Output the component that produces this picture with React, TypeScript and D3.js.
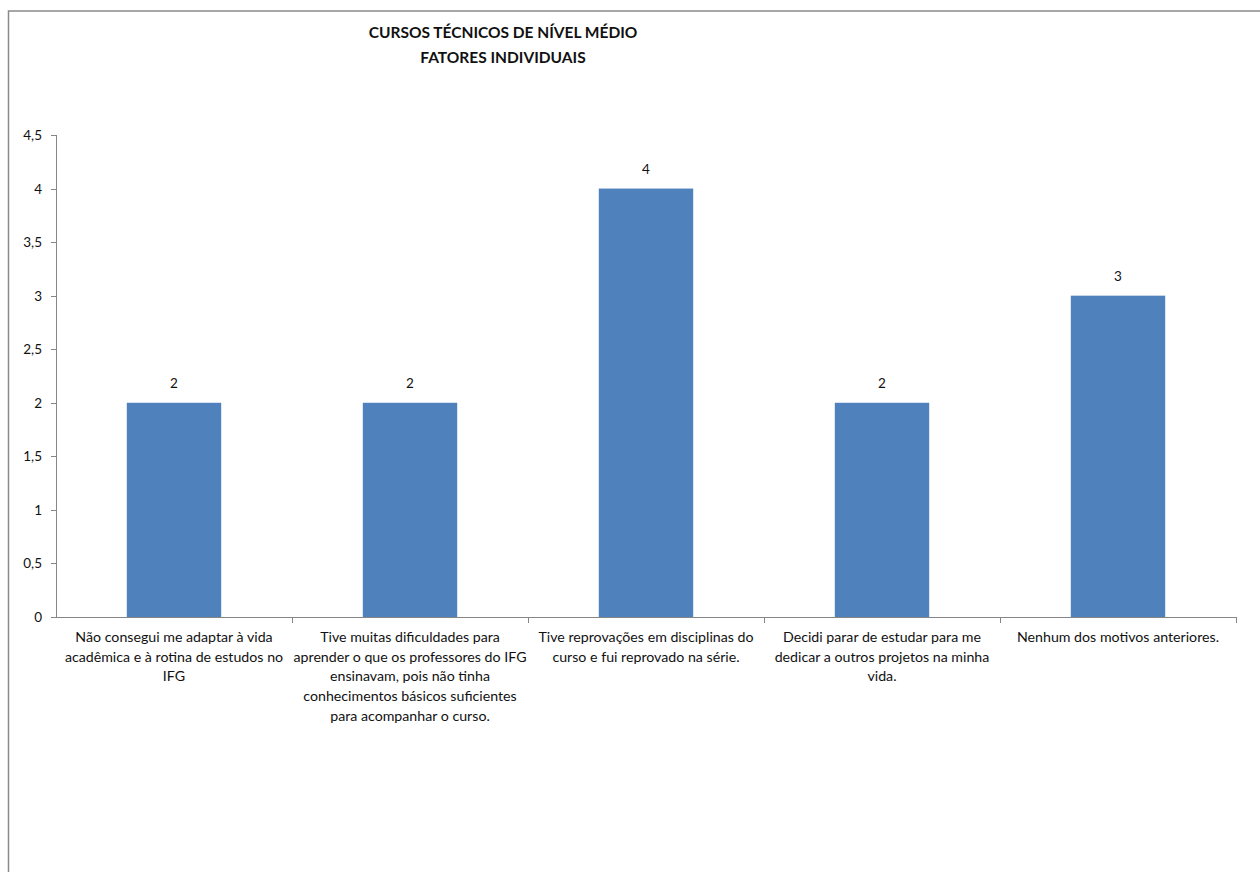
import React from "react";
import * as d3 from "d3";

const titleLines = ["CURSOS TÉCNICOS DE NÍVEL MÉDIO", "FATORES INDIVIDUAIS"];
const categories = [
  "Não consegui me adaptar à vida acadêmica e à rotina de estudos no IFG",
  "Tive muitas dificuldades para aprender o que os professores do IFG ensinavam, pois não tinha conhecimentos básicos suficientes para acompanhar o curso.",
  "Tive reprovações em disciplinas do curso e fui reprovado na série.",
  "Decidi parar de estudar para me dedicar a outros projetos na minha vida.",
  "Nenhum dos motivos anteriores.",
];
const categoryLines = [
  ["Não consegui me adaptar à vida", "acadêmica e à rotina de estudos no", "IFG"],
  ["Tive muitas dificuldades para", "aprender o que os professores do IFG", "ensinavam, pois não tinha", "conhecimentos básicos suficientes", "para acompanhar o curso."],
  ["Tive reprovações em disciplinas do", "curso e fui reprovado na série."],
  ["Decidi parar de estudar para me", "dedicar a outros projetos na minha", "vida."],
  ["Nenhum dos motivos anteriores."],
];
const values = [2, 2, 4, 2, 3];
const yTicks = [0, 0.5, 1, 1.5, 2, 2.5, 3, 3.5, 4, 4.5];

const W = 1260;
const H = 872;
const FONT = "Lato, 'Open Sans', sans-serif";

export default function App() {
  const x = d3
    .scaleBand<string>()
    .domain(categories)
    .range([56, 1236])
    .paddingInner(0.6)
    .paddingOuter(0.3);
  const y = d3.scaleLinear().domain([0, 4.5]).range([617, 135]);
  const step = x.step();
  const fmt = (v: number) => String(v).replace(".", ",");
  const axisColor = "#868686";
  const textColor = "#111";

  return (
    <svg
      width={W}
      height={H}
      style={{ position: "absolute", left: 0, top: 0, background: "#fff" }}
      fontFamily={FONT}
    >
      <rect x={8.5} y={11} width={W + 20} height={H + 20} fill="#fff" stroke="#8a8a8a" strokeWidth={1.5} />
      {titleLines.map((t, i) => (
        <text
          key={i}
          x={503}
          y={37.5 + i * 25}
          textAnchor="middle"
          fontSize={15.5}
          fontWeight="bold"
          fill={textColor}
        >
          {t}
        </text>
      ))}
      {/* y axis */}
      <line x1={56.5} x2={56.5} y1={y(4.5)} y2={y(0)} stroke={axisColor} />
      {yTicks.map((t) => (
        <g key={t}>
          <line x1={51} x2={56.5} y1={Math.round(y(t)) + 0.5} y2={Math.round(y(t)) + 0.5} stroke={axisColor} />
          <text x={42} y={y(t) + 5} textAnchor="end" fontSize={13.5} fill={textColor}>
            {fmt(t)}
          </text>
        </g>
      ))}
      {/* x axis */}
      <line x1={56} x2={1236} y1={617.5} y2={617.5} stroke={axisColor} />
      {categories.map((c, i) => {
        const bx = (x(c) as number) - step * 0.3;
        return (
          <line key={"t" + i} x1={Math.round(bx + step) + 0.5} x2={Math.round(bx + step) + 0.5} y1={617} y2={623} stroke={axisColor} />
        );
      })}
      {/* bars */}
      {categories.map((c, i) => (
        <g key={"b" + i}>
          <rect
            x={x(c) as number}
            y={y(values[i])}
            width={x.bandwidth()}
            height={y(0) - y(values[i])}
            fill="#4F81BD"
          />
          <text
            x={(x(c) as number) + x.bandwidth() / 2}
            y={y(values[i]) - 15}
            textAnchor="middle"
            fontSize={13.5}
            fill={textColor}
          >
            {values[i]}
          </text>
        </g>
      ))}
      {/* category labels */}
      {categories.map((c, i) => (
        <text
          key={"l" + i}
          x={(x(c) as number) + x.bandwidth() / 2}
          y={642}
          textAnchor="middle"
          fontSize={14.2}
          fill={textColor}
        >
          {categoryLines[i].map((ln, j) => (
            <tspan key={j} x={(x(c) as number) + x.bandwidth() / 2} dy={j === 0 ? 0 : 19.7}>
              {ln}
            </tspan>
          ))}
        </text>
      ))}
    </svg>
  );
}
